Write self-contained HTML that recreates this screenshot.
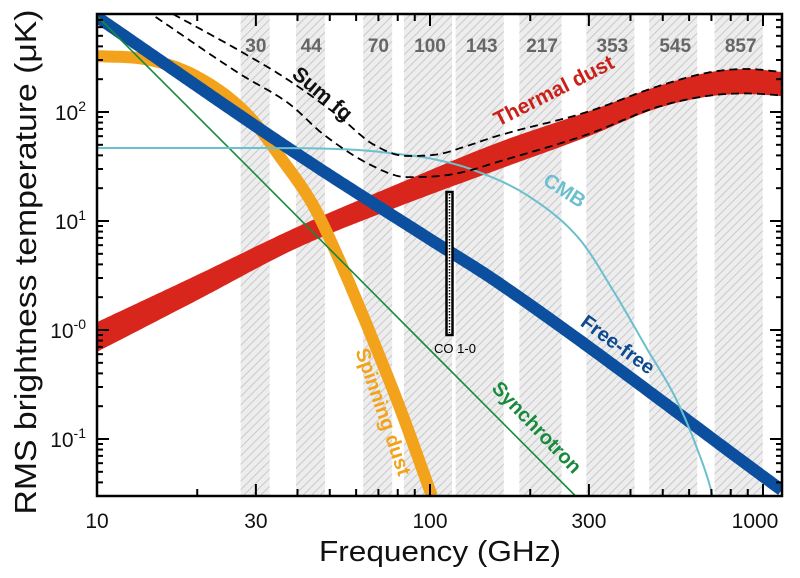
<!DOCTYPE html>
<html><head><meta charset="utf-8"><style>
html,body{margin:0;padding:0;background:#fff}
svg{display:block;font-family:"Liberation Sans",Arial,sans-serif}
</style></head><body>
<svg id="chart" width="800" height="578" viewBox="0 0 800 578" xmlns="http://www.w3.org/2000/svg">
<defs>
<pattern id="hatch" patternUnits="userSpaceOnUse" width="6" height="6" patternTransform="rotate(45)">
<rect width="6" height="6" fill="#ededee"/><line x1="0" y1="0" x2="0" y2="6" stroke="#c9c9cc" stroke-width="2"/>
</pattern>
<clipPath id="plotclip"><rect x="97" y="14" width="685" height="482"/></clipPath>
</defs>
<g id="bands"></g>
<g id="series" clip-path="url(#plotclip)"></g>
<g id="axes"></g>
<g id="labels"></g>
</svg>
<script>
const bandCenters=[30,44,70,100,143,217,353,545,857];
const bandLabels=["30","44","70","100","143","217","353","545","857"];
const bandFrac=[0.1,0.1,0.1,0.165,0.165,0.145,0.165,0.165,0.165];
const dustF=[10,20,39.9,79.7,159,296,486,700,898,1138];
const dustUpper=[1.18,3.2,8.81,21.8,52,100,173,233,248,233];
const dustLower=[0.63,1.88,5.65,13.4,29.4,59,109,140,146,140];
const sumF=[16.9,26.9,37.9,53.6,67.4,85.1,107,126.5,159,296,486,700,898,1138];
const sumUpper=[793,362,193,89.8,50.7,39.5,41.2,47.8,60.2,100,173,233,248,233];
const sumLowF=[15,26.9,37.9,47.7,67.4,85.1,107,126.5,159,296,486,700,898,1138];
const sumLower=[744,223,118,62.9,31.9,25.3,25.9,28.2,34.7,62,112,142,148,142];
const spinF=[10,14,20,28.2,35.5,44.9,52.6,63.3,81.2,101.3];
const spinV=[326,305,210,95.9,38.6,13.4,4.87,1.29,0.193,0.03];
const syncF=[10,30,100,273.5];
const syncV=[760,26.5,0.655,0.03];
const cmbF=[10,30,59.5,81,100,134.8,199.5,282.5,354,445,550,632,702,760];
const cmbV=[46.7,46.7,45,41,37.5,29.4,16.6,6.7,2.33,0.7,0.228,0.084,0.032,0.01];
const ffF=[10,40,100,159,1138];
const ffV=[745,41,6.8,2.76,0.034];
const xTicks=[10,30,100,300,1000];
const xTickLabels=["10","30","100","300","1000"];
const yTicks=[100,10,1,0.1];
const yTickExp=["2","1","-0","-1"];

const NS="http://www.w3.org/2000/svg";
const X0=97,X1=782,Y0=14,Y1=496;
const PXD=333, PYD=109;
function xs(f){return X0+PXD*Math.log10(f/10);}
function ys(v){return 330-PYD*Math.log10(v);}
function mk(tag,attrs,parent){const e=document.createElementNS(NS,tag);for(const k in attrs)e.setAttribute(k,attrs[k]);parent.appendChild(e);return e;}
function pathOf(F,V){return F.map((f,i)=>(i?"L":"M")+xs(f).toFixed(1)+","+ys(V[i]).toFixed(1)).join(" ");}
function mono(F,V){
 const x=F.map(xs),y=V.map(ys),n=x.length;
 const d=[],m=new Array(n);
 for(let i=0;i<n-1;i++)d.push((y[i+1]-y[i])/(x[i+1]-x[i]));
 m[0]=d[0];m[n-1]=d[n-2];
 for(let i=1;i<n-1;i++){m[i]=(d[i-1]*d[i]<=0)?0:(d[i-1]+d[i])/2;}
 for(let i=0;i<n-1;i++){if(d[i]===0){m[i]=0;m[i+1]=0;continue;}
  const a=m[i]/d[i],b=m[i+1]/d[i],s=a*a+b*b;if(s>9){const t=3/Math.sqrt(s);m[i]=t*a*d[i];m[i+1]=t*b*d[i];}}
 const pts=[];
 for(let i=0;i<n-1;i++){const h=x[i+1]-x[i],steps=Math.max(2,Math.ceil(h/2));
  for(let k=(i?1:0);k<=steps;k++){const t=k/steps,t2=t*t,t3=t2*t;
   const yy=(2*t3-3*t2+1)*y[i]+(t3-2*t2+t)*h*m[i]+(-2*t3+3*t2)*y[i+1]+(t3-t2)*h*m[i+1];
   pts.push([x[i]+t*h,yy]);}}
 return pts;}
function dOf(pts){return pts.map((p,i)=>(i?"L":"M")+p[0].toFixed(1)+","+p[1].toFixed(1)).join(" ");}
const bandsG=document.getElementById('bands');
bandCenters.forEach((c,i)=>{
 const a=xs(c*(1-bandFrac[i])),b=xs(c*(1+bandFrac[i]));
 const r=mk('rect',{x:a,y:Y0,width:b-a,height:Y1-Y0,fill:'url(#hatch)'},bandsG);
 
 
 const t=mk('text',{x:xs(c),y:52,'text-anchor':'middle','font-size':'19','font-weight':'bold',fill:'#666'},bandsG);
 t.textContent=bandLabels[i];
 
 
});
const S=document.getElementById('series');
const upP=mono(dustF,dustUpper),loP=mono(dustF,dustLower).reverse();
const dust=mk('path',{d:dOf(upP.concat(loP))+" Z",fill:'#d9261c'},S);


const spin=mk('path',{d:dOf(mono(spinF,spinV)),fill:'none',stroke:'#f2a31b','stroke-width':12},S);


const ff=mk('path',{d:dOf(mono(ffF,ffV)),fill:'none',stroke:'#0b4f9e','stroke-width':12},S);


const sy=mk('path',{d:pathOf(syncF,syncV),fill:'none',stroke:'#178a3c','stroke-width':1.6},S);


const cmb=mk('path',{d:dOf(mono(cmbF,cmbV)),fill:'none',stroke:'#6cbfcd','stroke-width':2},S);


const su=mk('path',{d:dOf(mono(sumF,sumUpper)),fill:'none',stroke:'#000','stroke-width':1.8,'stroke-dasharray':'8,5'},S);


const sl=mk('path',{d:dOf(mono(sumLowF,sumLower)),fill:'none',stroke:'#000','stroke-width':1.8,'stroke-dasharray':'8,5'},S);


const co=mk('rect',{x:446.5,y:192,width:6,height:143,fill:'#fff',stroke:'#000','stroke-width':2.5},S);


const cod=mk('line',{x1:449.5,y1:194,x2:449.5,y2:333,stroke:'#000','stroke-width':1.5,'stroke-dasharray':'1.5,1.5'},S);


const A=document.getElementById('axes');
const fr=mk('rect',{x:X0,y:Y0,width:X1-X0,height:Y1-Y0,fill:'none',stroke:'#000','stroke-width':2.5},A);


for(let dec=10;dec<=1000;dec*=10){for(let m=1;m<10;m++){const f=dec*m;const x=xs(f);if(x>X1)break;
 const L=(m===1||m===3)?12:7;
 mk('line',{x1:x,y1:Y1,x2:x,y2:Y1-L,stroke:'#000','stroke-width':2},A);
 mk('line',{x1:x,y1:Y0,x2:x,y2:Y0+L,stroke:'#000','stroke-width':2},A);}}
for(let dec=0.01;dec<=1000;dec*=10){for(let m=1;m<10;m++){const v=dec*m;const y=ys(v);if(y<Y0||y>Y1)continue;
 const L=m===1?12:6;
 mk('line',{x1:X0,y1:y,x2:X0+L,y2:y,stroke:'#000','stroke-width':2},A);
 mk('line',{x1:X1,y1:y,x2:X1-L,y2:y,stroke:'#000','stroke-width':2},A);}}
xTicks.forEach((f,i)=>{const t=mk('text',{x:xs(f)+(i===4?-8:0),y:528,'text-anchor':'middle','font-size':'21',fill:'#111'},A);t.textContent=xTickLabels[i];
 
 });
yTicks.forEach((v,i)=>{const t=mk('text',{x:86,y:ys(v)+8,'text-anchor':'end','font-size':'21',fill:'#111'},A);
 t.innerHTML='10<tspan dy="-9" font-size="14">'+yTickExp[i]+'</tspan>';
 
 });
const Lg=document.getElementById('labels');
function lab(txt,x,y,rot,col,size,name){const t=mk('text',{x:x,y:y,'text-anchor':'middle','font-size':size,'font-weight':'bold',fill:col,transform:'rotate('+rot+' '+x+' '+y+')'},Lg);t.textContent=txt;
 
 }
lab('Sum fg',318,99,40,'#111',21,'sum-fg-label');
lab('Thermal dust',557,97,-27,'#c9211a',21,'thermal-dust-label');
lab('CMB',561,196,33,'#6cbfcd',20,'cmb-label');
lab('Free-free',614,350,36,'#0d4a8f',20,'free-free-label');
lab('Synchrotron',532,432,46,'#178a3c',20,'synchrotron-label');
lab('Spinning dust',377,414,71,'#f2a31b',20,'spinning-dust-label');
const co2=mk('text',{x:455,y:353,'text-anchor':'middle','font-size':'13',fill:'#000'},Lg);co2.textContent='CO 1-0';


const xt=mk('text',{x:440,y:561,'text-anchor':'middle','font-size':'29',fill:'#111',textLength:'242',lengthAdjust:'spacingAndGlyphs'},Lg);xt.textContent='Frequency (GHz)';


const yt=mk('text',{x:36,y:262,'text-anchor':'middle','font-size':'31',fill:'#111',transform:'rotate(-90 36 262)',textLength:'505',lengthAdjust:'spacingAndGlyphs'},Lg);yt.textContent='RMS brightness temperature (\u03bcK)';


</script>
</body></html>
